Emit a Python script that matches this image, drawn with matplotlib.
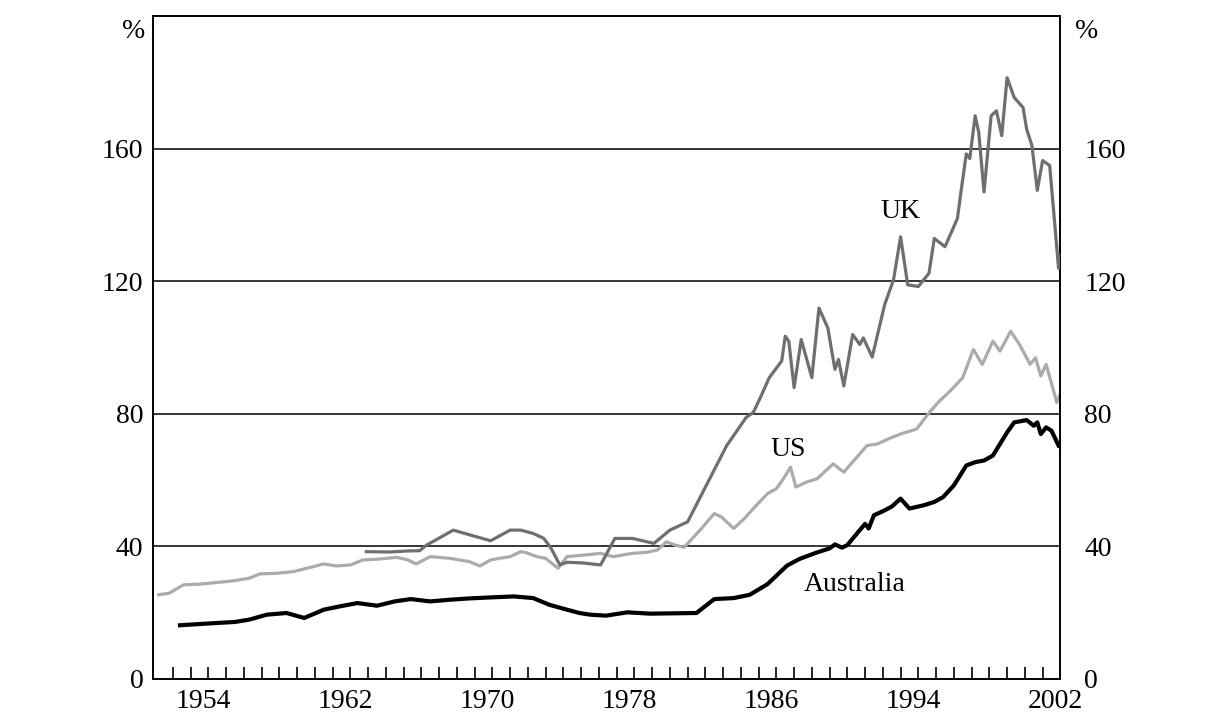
import matplotlib
matplotlib.use("Agg")
from matplotlib import pyplot as plt
import numpy as np

plt.rcParams["font.family"] = ["Liberation Serif", "DejaVu Serif"]

# Australia
aus_years = [1952.7, 1954.5, 1955.8, 1956.6, 1957.6, 1958.7, 1959.7, 1960.8, 1961.8, 1962.7,
             1963.8, 1964.8, 1965.7, 1966.8, 1967.9, 1969.0, 1970.2, 1971.5, 1972.6, 1973.5,
             1974.3, 1975.2, 1975.8, 1976.7, 1977.9, 1979.2, 1980.5, 1981.8, 1982.8, 1983.9,
             1984.8, 1985.8, 1986.9, 1987.6, 1988.5, 1989.3, 1989.6, 1990.0, 1990.3, 1991.0,
             1991.3, 1991.5, 1991.8, 1992.3, 1992.8, 1993.3, 1993.8, 1994.6, 1995.2, 1995.7,
             1996.3, 1997.0, 1997.5, 1998.0, 1998.5, 1998.9, 1999.3, 1999.7, 2000.4, 2000.8,
             2001.0, 2001.2, 2001.5, 2001.8, 2002.2]
aus_vals = [16.2, 16.8, 17.2, 17.9, 19.4, 19.9, 18.4, 20.9, 22.0, 22.9,
            22.1, 23.4, 24.1, 23.4, 23.9, 24.3, 24.6, 24.9, 24.4, 22.4,
            21.2, 19.9, 19.4, 19.1, 20.1, 19.7, 19.8, 19.9, 24.1, 24.4,
            25.4, 28.6, 34.2, 36.2, 38.0, 39.4, 40.6, 39.6, 40.4, 44.9,
            46.8, 45.4, 49.4, 50.6, 52.0, 54.4, 51.4, 52.4, 53.4, 54.9,
            58.4, 64.4, 65.4, 65.9, 67.4, 70.9, 74.4, 77.4, 78.1, 76.4,
            77.4, 73.9, 75.9, 74.9, 70.4]

# US
us_years = [1951.5, 1952.1, 1952.9, 1953.8, 1954.8, 1955.7, 1956.6, 1957.2, 1958.2, 1959.1,
            1960.0, 1960.8, 1961.5, 1962.3, 1963.0, 1964.0, 1964.9, 1965.5, 1966.0, 1966.8,
            1967.9, 1969.0, 1969.6, 1970.2, 1970.7, 1971.3, 1971.9, 1972.2, 1972.8, 1973.3,
            1974.0, 1974.5, 1975.5, 1976.4, 1977.1, 1978.2, 1979.0, 1979.6, 1980.1, 1980.6,
            1981.1, 1982.0, 1982.8, 1983.2, 1983.9, 1984.5, 1985.0, 1985.8, 1986.3, 1986.7,
            1987.1, 1987.4, 1988.0, 1988.6, 1989.5, 1990.1, 1991.0, 1991.4, 1992.0, 1992.6,
            1993.3, 1994.2, 1995.0, 1995.5, 1996.1, 1996.8, 1997.4, 1997.9, 1998.5, 1998.9,
            1999.5, 2000.0, 2000.6, 2000.9, 2001.2, 2001.5, 2002.1, 2002.25]
us_vals = [25.4, 25.9, 28.4, 28.6, 29.1, 29.6, 30.4, 31.7, 31.9, 32.4,
           33.6, 34.7, 34.1, 34.4, 35.9, 36.2, 36.7, 36.0, 34.7, 36.9,
           36.4, 35.4, 34.1, 35.9, 36.4, 36.9, 38.4, 38.1, 36.9, 36.4,
           33.4, 36.9, 37.4, 37.9, 36.9, 37.9, 38.2, 38.9, 41.4, 40.4,
           39.7, 44.9, 49.9, 48.9, 45.4, 48.4, 51.4, 55.9, 57.4, 60.4,
           63.9, 57.9, 59.4, 60.4, 64.9, 62.4, 67.9, 70.4, 70.9, 72.4,
           73.9, 75.4, 80.9, 83.9, 86.9, 90.9, 99.4, 94.9, 101.9, 98.9,
           104.9, 100.9, 94.9, 96.9, 91.4, 94.9, 83.4, 85.4]

# UK
uk_years = [1963.2, 1964.5, 1965.5, 1966.2, 1966.6, 1968.1, 1969.2, 1970.2, 1971.3, 1971.9,
            1972.6, 1973.2, 1973.6, 1974.1, 1974.5, 1975.4, 1976.4, 1977.2, 1978.2, 1979.4,
            1980.3, 1981.3, 1982.4, 1983.5, 1984.6, 1985.0, 1985.4, 1985.9, 1986.6, 1986.8,
            1987.0, 1987.3, 1987.7, 1988.3, 1988.7, 1989.2, 1989.6, 1989.8, 1990.1, 1990.6,
            1991.0, 1991.2, 1991.7, 1992.4, 1992.9, 1993.3, 1993.7, 1994.3, 1994.9, 1995.2,
            1995.8, 1996.5, 1996.7, 1997.0, 1997.2, 1997.5, 1997.7, 1998.0, 1998.4, 1998.7,
            1999.0, 1999.3, 1999.7, 2000.2, 2000.4, 2000.7, 2001.0, 2001.3, 2001.7, 2002.2,
            2002.28]
uk_vals = [38.4, 38.3, 38.6, 38.7, 40.4, 44.9, 43.2, 41.7, 44.9, 44.9,
           43.9, 42.4, 39.5, 34.4, 35.2, 35.0, 34.4, 42.4, 42.4, 40.9,
           44.9, 47.4, 58.9, 70.4, 78.9, 80.4, 84.9, 90.9, 95.9, 103.4,
           101.9, 87.9, 102.4, 90.9, 111.9, 105.9, 93.4, 96.4, 88.4, 103.9,
           100.9, 102.9, 97.1, 112.9, 120.4, 133.4, 118.9, 118.4, 122.4, 132.9,
           130.4, 138.9, 146.9, 158.4, 157.0, 169.9, 165.0, 146.9, 169.9, 171.4,
           163.9, 181.4, 175.4, 172.4, 165.9, 160.9, 147.4, 156.4, 154.9, 123.9,
           127.9]

label_years = [1954, 1962, 1970, 1978, 1986, 1994, 2002]
y_ticks = [0, 40, 80, 120, 160]

fig = plt.figure(figsize=(12.25, 7.21), dpi=100)
ax = fig.add_axes([0.1249, 0.0583, 0.7404, 0.9195])

for y in y_ticks[1:]:
    ax.axhline(y, color="black", lw=1.1, zorder=1)

ax.plot(us_years, us_vals, color="#ababab", lw=2.3, zorder=2)
ax.plot(uk_years, uk_vals, color="#6f6f6f", lw=2.3, zorder=3)
ax.plot(aus_years, aus_vals, color="black", lw=3.0, zorder=4)

ax.set_xlim(1951.18, 2002.28)
ax.set_ylim(0, 200)

# one upward tick per year (major, unlabelled); year labels on the minor locator
ax.set_xticks(np.arange(1952, 2002) + 0.3)
ax.set_xticklabels([])
ax.set_xticks(label_years, minor=True)
ax.set_xticklabels([str(y) for y in label_years], minor=True)
ax.tick_params(axis="x", which="major", direction="in", length=9, width=1.2)
ax.tick_params(axis="x", which="minor", length=0, pad=7, labelsize=20)

ax.set_yticks(y_ticks)
ax.tick_params(axis="y", length=0, labelsize=20, pad=7,
               labelright=True, right=False)
for t in ax.yaxis.get_major_ticks():
    t.label2.set_x(1.016)

for s in ax.spines.values():
    s.set_linewidth(1.4)

ax.text(-0.008, 195.3, "%", transform=ax.get_yaxis_transform(), ha="right",
        va="center", fontsize=20)
ax.text(1.016, 195.3, "%", transform=ax.get_yaxis_transform(), ha="left",
        va="center", fontsize=20)

ax.text(1993.3, 140.9, "UK", ha="center", va="center", fontsize=20)
ax.text(1986.96, 69.3, "US", ha="center", va="center", fontsize=20)
ax.text(1990.7, 28.5, "Australia", ha="center", va="center", fontsize=20)

plt.savefig("out.png", dpi=100)
